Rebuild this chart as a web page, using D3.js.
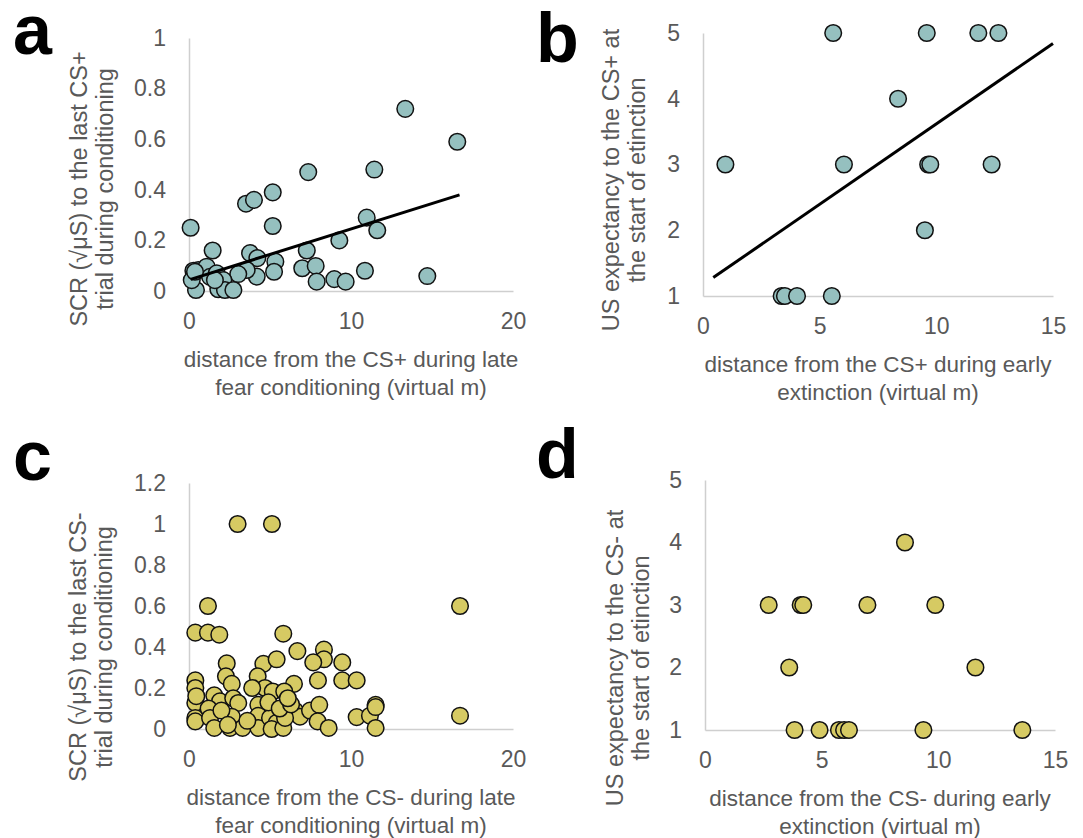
<!DOCTYPE html>
<html><head><meta charset="utf-8">
<script src="https://cdn.jsdelivr.net/npm/d3@7/dist/d3.min.js"></script>
<style>
body{margin:0;background:#fff}
svg{display:block}
text{font-family:"Liberation Sans",Arial,sans-serif}
</style>
</head><body>
<svg id="chart" width="1083" height="838"></svg>
<script>
// ---- Panel a: CS+ late fear conditioning distance vs SCR ----
const aX=[0.1,13.35,16.56,7.36,11.44,5.17,3.52,4.01,5.17,10.97,11.62,9.28,1.46,7.27,3.77,4.22,5.33,5.25,4.18,3.56,3.04,6.99,7.82,7.88,8.97,9.67,10.86,14.71,0.43,0.57,0.27,1.09,0.17,1.3,1.71,2.12,1.81,2.22,2.74,0.37,1.6];
const aY=[0.25,0.72,0.59,0.47,0.48,0.39,0.345,0.36,0.257,0.29,0.24,0.20,0.16,0.16,0.15,0.13,0.116,0.076,0.057,0.083,0.067,0.09,0.099,0.037,0.047,0.037,0.08,0.059,0.004,0.083,0.08,0.096,0.043,0.056,0.07,0.043,0.007,0.004,0.004,0.076,0.043];
const aTrend=[[0.1,0.046],[16.7,0.38]];
const aXTicks=[0,10,20], aYTicks=[0,0.2,0.4,0.6,0.8,1];

// ---- Panel b: CS+ early extinction distance vs US expectancy ----
const bX=[5.58,9.59,11.8,12.66,8.36,0.96,6.04,9.65,9.74,12.37,9.51,3.37,3.51,4.03,5.52];
const bY=[5,5,5,5,4,3,3,3,3,3,2,1,1,1,1];
const bTrend=[[0.44,1.28],[15,4.84]];
const bXTicks=[0,5,10,15], bYTicks=[1,2,3,4,5];

// ---- Panel c: CS- late fear conditioning distance vs SCR ----
const cX=[3.0,5.12,1.17,16.73,16.73,0.39,1.17,1.87,5.82,6.69,8.33,8.33,7.67,9.46,2.33,4.59,5.41,4.24,2.28,0.39,0.39,2.64,7.96,9.46,10.35,6.48,4.69,5.17,5.88,1.56,1.91,2.73,3.04,0.39,0.39,0.39,1.21,1.3,1.56,2.64,2.53,3.31,4.28,4.28,4.28,5.0,5.41,5.1,5.82,6.19,6.54,6.85,5.93,7.47,8.04,7.94,8.62,10.35,11.17,11.52,11.52,11.52,0.45,2.0,3.6,4.9,5.6,6.3,3.9,6.1,2.4];
const cY=[1.0,1.0,0.6,0.6,0.065,0.47,0.47,0.46,0.465,0.38,0.387,0.34,0.325,0.325,0.32,0.318,0.34,0.257,0.257,0.237,0.2,0.22,0.237,0.237,0.237,0.22,0.2,0.183,0.183,0.164,0.135,0.15,0.127,0.127,0.054,0.037,0.1,0.054,0.005,0.06,0.005,0.005,0.118,0.065,0.005,0.054,0.03,0.0,0.005,0.107,0.09,0.06,0.054,0.09,0.118,0.037,0.005,0.058,0.065,0.118,0.107,0.005,0.16,0.09,0.04,0.13,0.1,0.12,0.2,0.15,0.02];
const cXTicks=[0,10,20], cYTicks=[0,0.2,0.4,0.6,0.8,1,1.2];

// ---- Panel d: CS- early extinction distance vs US expectancy ----
const dX=[8.57,2.73,4.1,4.21,6.96,9.87,3.61,11.59,3.84,4.91,5.74,5.96,6.17,9.36,13.6];
const dY=[4,3,3,3,3,3,2,2,1,1,1,1,1,1,1];
const dXTicks=[0,5,10,15], dYTicks=[1,2,3,4,5];

const TEAL="#95c0bf", YELLOW="#d6ca63", TXT="#595959", AXIS="#cfcfcf";

const svg=d3.select("#chart");

function panel(o){
  const g=svg.append("g");
  const x=d3.scaleLinear().domain(o.xDom).range(o.xRange);
  const y=d3.scaleLinear().domain(o.yDom).range(o.yRange);
  const ya=g.append("g").attr("transform",`translate(${o.xRange[0]},0)`)
    .call(d3.axisLeft(y).tickValues(o.yTicks).tickSize(0).tickPadding(23).tickFormat(d3.format("~g")));
  const xa=g.append("g").attr("transform",`translate(0,${o.yRange[0]})`)
    .call(d3.axisBottom(x).tickValues(o.xTicks).tickSize(0).tickPadding(22).tickFormat(d3.format("~g")));
  [ya,xa].forEach(a=>{
    a.select(".domain").attr("stroke",AXIS).attr("stroke-width",1.5);
    a.selectAll("text").attr("fill",TXT).style("font-size","23px").style("font-family",'"Liberation Sans",Arial,sans-serif');
  });
  g.append("g").selectAll("circle").data(d3.range(o.xs.length)).join("circle")
    .attr("cx",i=>x(o.xs[i])).attr("cy",i=>y(o.ys[i])).attr("r",8.3)
    .attr("fill",o.color).attr("stroke","#111").attr("stroke-width",1.5);
  if(o.trend){
    g.append("path").datum(o.trend)
      .attr("d",d3.line().x(d=>x(d[0])).y(d=>y(d[1])))
      .attr("stroke","#000").attr("stroke-width",3).attr("fill","none");
  }
  // y title
  const yt=g.append("text").attr("transform",`translate(${o.yTitlePos[0]},${o.yTitlePos[1]}) rotate(-90)`)
    .attr("text-anchor","middle").attr("fill",TXT).style("font-size","23.5px");
  o.yTitle.forEach((t,i)=>yt.append("tspan").attr("x",0).attr("y",i*26).text(t));
  const xt=g.append("text").attr("text-anchor","middle").attr("fill",TXT).style("font-size","22.5px");
  o.xTitle.forEach((t,i)=>xt.append("tspan").attr("x",o.xTitlePos[0]).attr("y",o.xTitlePos[1]+i*28).text(t));
  svg.append("text").attr("x",o.letter[1]).attr("y",o.letter[2]).text(o.letter[0])
    .attr("fill","#000").style("font-size","70px").style("font-weight","bold");
}

panel({xs:aX,ys:aY,color:TEAL,trend:aTrend,xDom:[0,20],xRange:[189,513],yDom:[0,1],yRange:[291,38],
  xTicks:aXTicks,yTicks:aYTicks,yTitle:["SCR (\u221A\u03BCS) to the last CS+","trial during conditioning"],yTitlePos:[87,189],
  xTitle:["distance from the CS+ during late","fear conditioning (virtual m)"],xTitlePos:[351,367],letter:["a",13,54]});
panel({xs:bX,ys:bY,color:TEAL,trend:bTrend,xDom:[0,15],xRange:[703,1053],yDom:[1,5],yRange:[296,33],
  xTicks:bXTicks,yTicks:bYTicks,yTitle:["US expectancy to the CS+ at","the start of etinction"],yTitlePos:[619,180],
  xTitle:["distance from the CS+ during early","extinction (virtual m)"],xTitlePos:[878,372],letter:["b",536,62]});
panel({xs:cX,ys:cY,color:YELLOW,trend:null,xDom:[0,20],xRange:[189,513],yDom:[0,1.2],yRange:[729,483],
  xTicks:cXTicks,yTicks:cYTicks,yTitle:["SCR (\u221A\u03BCS) to the last CS-","trial during conditioning"],yTitlePos:[86,647],
  xTitle:["distance from the CS- during late","fear conditioning (virtual m)"],xTitlePos:[351,805],letter:["c",13,480]});
panel({xs:dX,ys:dY,color:YELLOW,trend:null,xDom:[0,15],xRange:[705,1055],yDom:[1,5],yRange:[730,480],
  xTicks:dXTicks,yTicks:dYTicks,yTitle:["US expectancy to the CS- at","the start of etinction"],yTitlePos:[623,658],
  xTitle:["distance from the CS- during early","extinction (virtual m)"],xTitlePos:[880,806],letter:["d",536,478]});
</script>
</body></html>
